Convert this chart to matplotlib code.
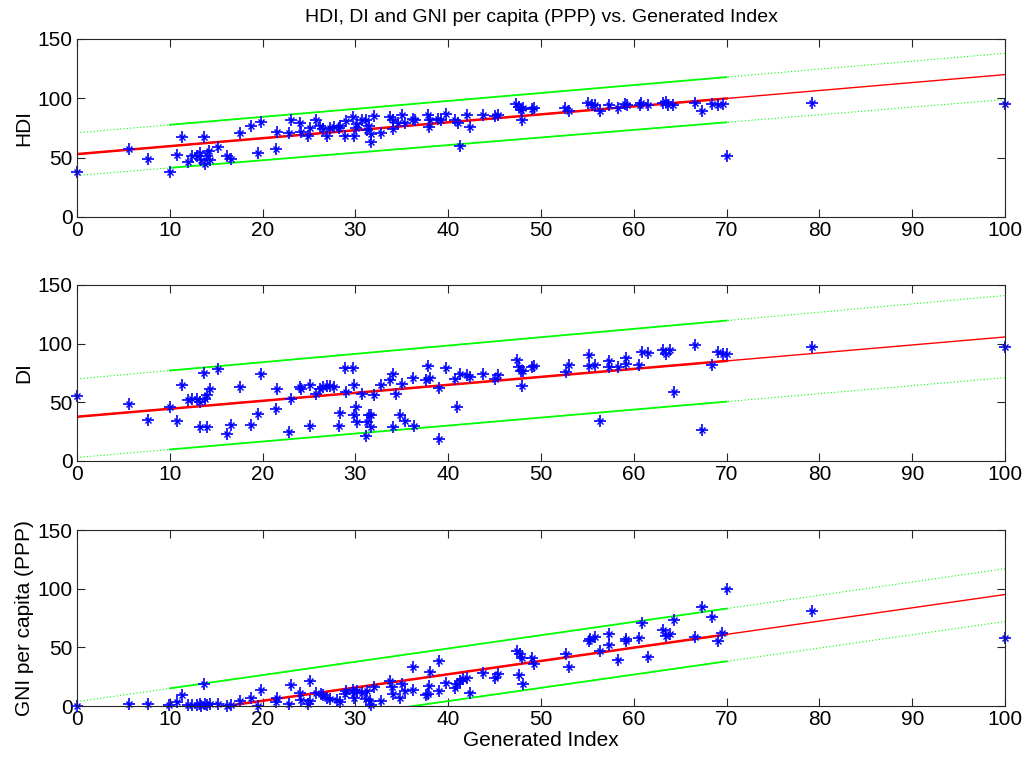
import matplotlib
matplotlib.use("Agg")
import matplotlib.pyplot as plt
import numpy as np

plt.rcParams['font.family'] = ['Liberation Sans', 'DejaVu Sans']

# ---------------- data ----------------
x_hdi = [0, 5.6, 7.6, 10.0, 10.8, 11.3, 12.0, 12.4, 12.9, 13.3, 13.4, 13.7, 13.8, 14.0, 14.2, 14.3,
         15.2, 16.2, 16.6, 17.6, 18.7, 19.5, 19.8, 21.4, 21.5, 22.8, 23.1, 24.0, 24.1, 24.9, 25.1,
         25.8, 26.2, 26.5, 26.9, 27.3, 27.7, 28.2, 28.3, 28.9, 29.0, 29.7, 29.9, 30.1, 30.2, 30.7,
         31.1, 31.2, 31.5, 31.7, 31.7, 32.0, 32.8, 33.7, 34.0, 34.1, 34.6, 35.0, 35.3, 36.2, 36.4,
         37.8, 37.9, 38.0, 38.9, 39.2, 39.8, 40.7, 41.1, 41.3, 42.0, 42.3, 43.7, 45.0, 45.4, 47.3,
         47.6, 47.8, 48.0, 48.1, 49.0, 49.2, 52.6, 53.0, 55.1, 55.5, 55.8, 56.4, 57.3, 58.3, 59.0,
         59.3, 60.7, 60.8, 61.5, 63.2, 63.5, 63.7, 64.2, 66.6, 67.3, 68.4, 69.1, 69.6, 70.0, 79.2, 100]
hdi = [38, 57, 49, 38, 52, 67, 46, 51, 51, 54, 48, 67, 45, 51, 56, 48,
       59, 51, 49, 71, 77, 54, 80, 57, 72, 71, 82, 79, 72, 68, 75,
       82, 77, 74, 68, 75, 76, 75, 77, 68, 81, 84, 68, 75, 78, 82,
       82, 73, 77, 70, 63, 85, 71, 84, 82, 74, 79, 86, 79, 83, 82,
       86, 76, 82, 83, 82, 87, 82, 79, 60, 86, 76, 86, 85, 86, 95,
       93, 90, 82, 92, 91, 92, 92, 89, 96, 94, 94, 89, 94, 92, 95,
       94, 94, 96, 94, 96, 97, 94, 94, 96, 89, 95, 94, 95, 51, 96, 95]

x_di = [0, 5.6, 7.6, 10.0, 10.8, 11.3, 12.0, 12.4, 12.9, 13.3, 13.3, 13.7, 13.8, 14.0, 14.0, 14.3,
        15.2, 16.2, 16.6, 17.6, 18.7, 19.5, 19.8, 21.4, 21.5, 22.8, 23.1, 24.0, 24.1, 25.1, 25.1,
        25.8, 26.2, 26.5, 26.9, 27.3, 27.7, 28.2, 28.3, 28.9, 29.0, 29.7, 29.9, 29.9, 30.1, 30.2,
        30.7, 31.1, 31.2, 31.5, 31.7, 31.7, 32.0, 32.8, 33.7, 34.0, 34.0, 34.4, 34.8, 35.0, 35.3,
        36.2, 36.3, 37.8, 37.6, 38.0, 39.0, 39.0, 39.8, 40.7, 41.0, 41.3, 42.0, 42.3, 43.7, 45.0,
        45.4, 47.4, 47.6, 47.8, 48.0, 48.1, 49.0, 49.2, 52.7, 53.0, 55.2, 55.2, 55.8, 56.4, 57.3,
        57.3, 58.3, 59.2, 59.2, 60.6, 60.9, 61.5, 63.1, 63.5, 63.9, 64.3, 66.6, 67.3, 68.4, 69.1,
        69.6, 70.0, 79.2, 100]
di = [55, 49, 35, 46, 34, 65, 52, 53, 53, 29, 50, 75, 53, 29, 56, 61,
      78, 23, 31, 63, 31, 40, 74, 44, 61, 25, 53, 63, 61, 30, 65,
      57, 61, 63, 64, 64, 63, 30, 41, 79, 59, 79, 39, 65, 46, 33,
      57, 21, 33, 39, 29, 39, 56, 65, 69, 74, 29, 57, 39, 66, 34,
      71, 30, 81, 69, 71, 62, 19, 79, 70, 46, 74, 73, 72, 74, 70,
      73, 86, 80, 77, 64, 77, 80, 81, 76, 82, 90, 81, 82, 34, 85,
      80, 80, 88, 83, 82, 93, 92, 95, 91, 95, 59, 99, 26, 82, 93,
      91, 91, 97, 97]

x_gni = [0, 5.6, 7.6, 9.9, 10.8, 11.3, 12.0, 12.4, 12.9, 13.3, 13.4, 13.7, 13.8, 14.0, 14.3, 15.2,
         16.2, 16.6, 17.6, 18.7, 19.5, 19.8, 21.4, 21.5, 22.8, 23.1, 24.0, 24.1, 24.9, 25.1, 25.1,
         25.8, 26.3, 26.5, 26.9, 27.3, 28.0, 28.3, 28.9, 29.0, 29.7, 29.9, 29.9, 30.2, 30.7, 31.1,
         31.2, 31.6, 31.7, 32.0, 32.8, 33.7, 33.9, 34.0, 34.8, 35.0, 35.3, 36.2, 36.2, 37.6, 37.8,
         37.9, 38.0, 39.0, 39.0, 39.8, 40.7, 41.0, 41.3, 41.6, 42.0, 42.3, 43.7, 45.0, 45.4, 47.4,
         47.6, 47.7, 47.9, 48.1, 49.0, 49.2, 52.7, 53.0, 55.2, 55.3, 55.8, 56.4, 57.3, 57.3, 58.3,
         59.2, 59.2, 60.6, 60.9, 61.5, 63.1, 63.5, 63.9, 64.3, 66.6, 67.3, 68.4, 69.1, 69.5, 70.0,
         79.2, 100]
gni = [0, 2, 2, 1, 3, 9, 1, 1, 1, 2, 0, 19, 2, 1, 2, 2,
       0, 1, 4, 7, 0, 14, 3, 7, 2, 18, 11, 5, 2, 21, 4,
       11, 10, 9, 7, 6, 5, 3, 10, 13, 14, 7, 11, 13, 11, 6,
       13, 4, 1, 16, 4, 21, 16, 10, 7, 19, 13, 33, 14, 9, 10,
       17, 29, 38, 13, 20, 15, 19, 21, 23, 24, 11, 28, 24, 27, 47,
       26, 44, 41, 19, 41, 36, 44, 33, 55, 57, 59, 47, 61, 52, 39,
       57, 55, 58, 71, 42, 65, 60, 61, 73, 59, 84, 76, 55, 62, 100,
       81, 58]

# fitted line and bounds (value at x=0 and x=100)
hdi_fit = [53, 120]
hdi_upper = [71, 138]
hdi_lower = [35, 99]
di_fit = [37.7, 105.7]
di_upper = [70, 141]
di_lower = [3, 71]
gni_fit = [-18.2, 95]
gni_upper = [3.7, 117]
gni_lower = [-41, 72]

panels = [
    ("HDI", x_hdi, hdi, hdi_fit, hdi_upper, hdi_lower),
    ("DI", x_di, di, di_fit, di_upper, di_lower),
    ("GNI per capita (PPP)", x_gni, gni, gni_fit, gni_upper, gni_lower),
]

fig = plt.figure(figsize=(10.25, 7.58), dpi=100)
left, width = 77 / 1025, 928 / 1025
tops = [39, 285, 530]
height_px = [178, 176, 176]

GREEN = (0, 1, 0)
for i, (lab, xs, ys, fit, up, lo) in enumerate(panels):
    bottom = 1 - (tops[i] + height_px[i]) / 758
    ax = fig.add_axes([left, bottom, width, height_px[i] / 758])
    xx = np.array([0, 100])
    xd = np.array([10, 70])
    def lin(v, x):
        return v[0] + (v[1] - v[0]) * x / 100.0
    # bounds: dotted over the whole range, dense/solid where data are dense
    for b in (up, lo):
        ax.plot(xx, lin(b, xx), color=GREEN, ls=(0, (1, 2)), lw=0.8)
        ax.plot(xd, lin(b, xd), color=GREEN, ls='-', lw=1.3)
    ax.plot(xx, lin(fit, xx), color=(1, 0, 0), lw=1.0)
    ax.plot(np.array([0, 70]), lin(fit, np.array([0, 70])), color=(1, 0, 0), lw=1.8)
    ax.plot(xs, ys, ls='none', marker='+', ms=9, mew=1.2, color=(0, 0, 1), clip_on=False)
    ax.plot(xs, ys, ls='none', marker='x', ms=5, mew=1.0, color=(0, 0, 1), clip_on=False)
    ax.set_xlim(0, 100)
    ax.set_ylim(0, 150)
    ax.set_xticks(np.arange(0, 101, 10))
    ax.set_yticks([0, 50, 100, 150])
    ax.tick_params(direction='in', top=True, right=True, labelsize=15, length=6,
                   width=0.8, color='0.15', pad=3)
    for s in ax.spines.values():
        s.set_color('0.15')
        s.set_linewidth(0.8)
    ax.set_ylabel(lab, fontsize=15, labelpad=3)
    if i == 0:
        ax.set_title("HDI, DI and GNI per capita (PPP) vs. Generated Index", fontsize=14, pad=12)
    if i == 2:
        ax.set_xlabel("Generated Index", fontsize=15, labelpad=1)

fig.savefig("out.png", dpi=100)
